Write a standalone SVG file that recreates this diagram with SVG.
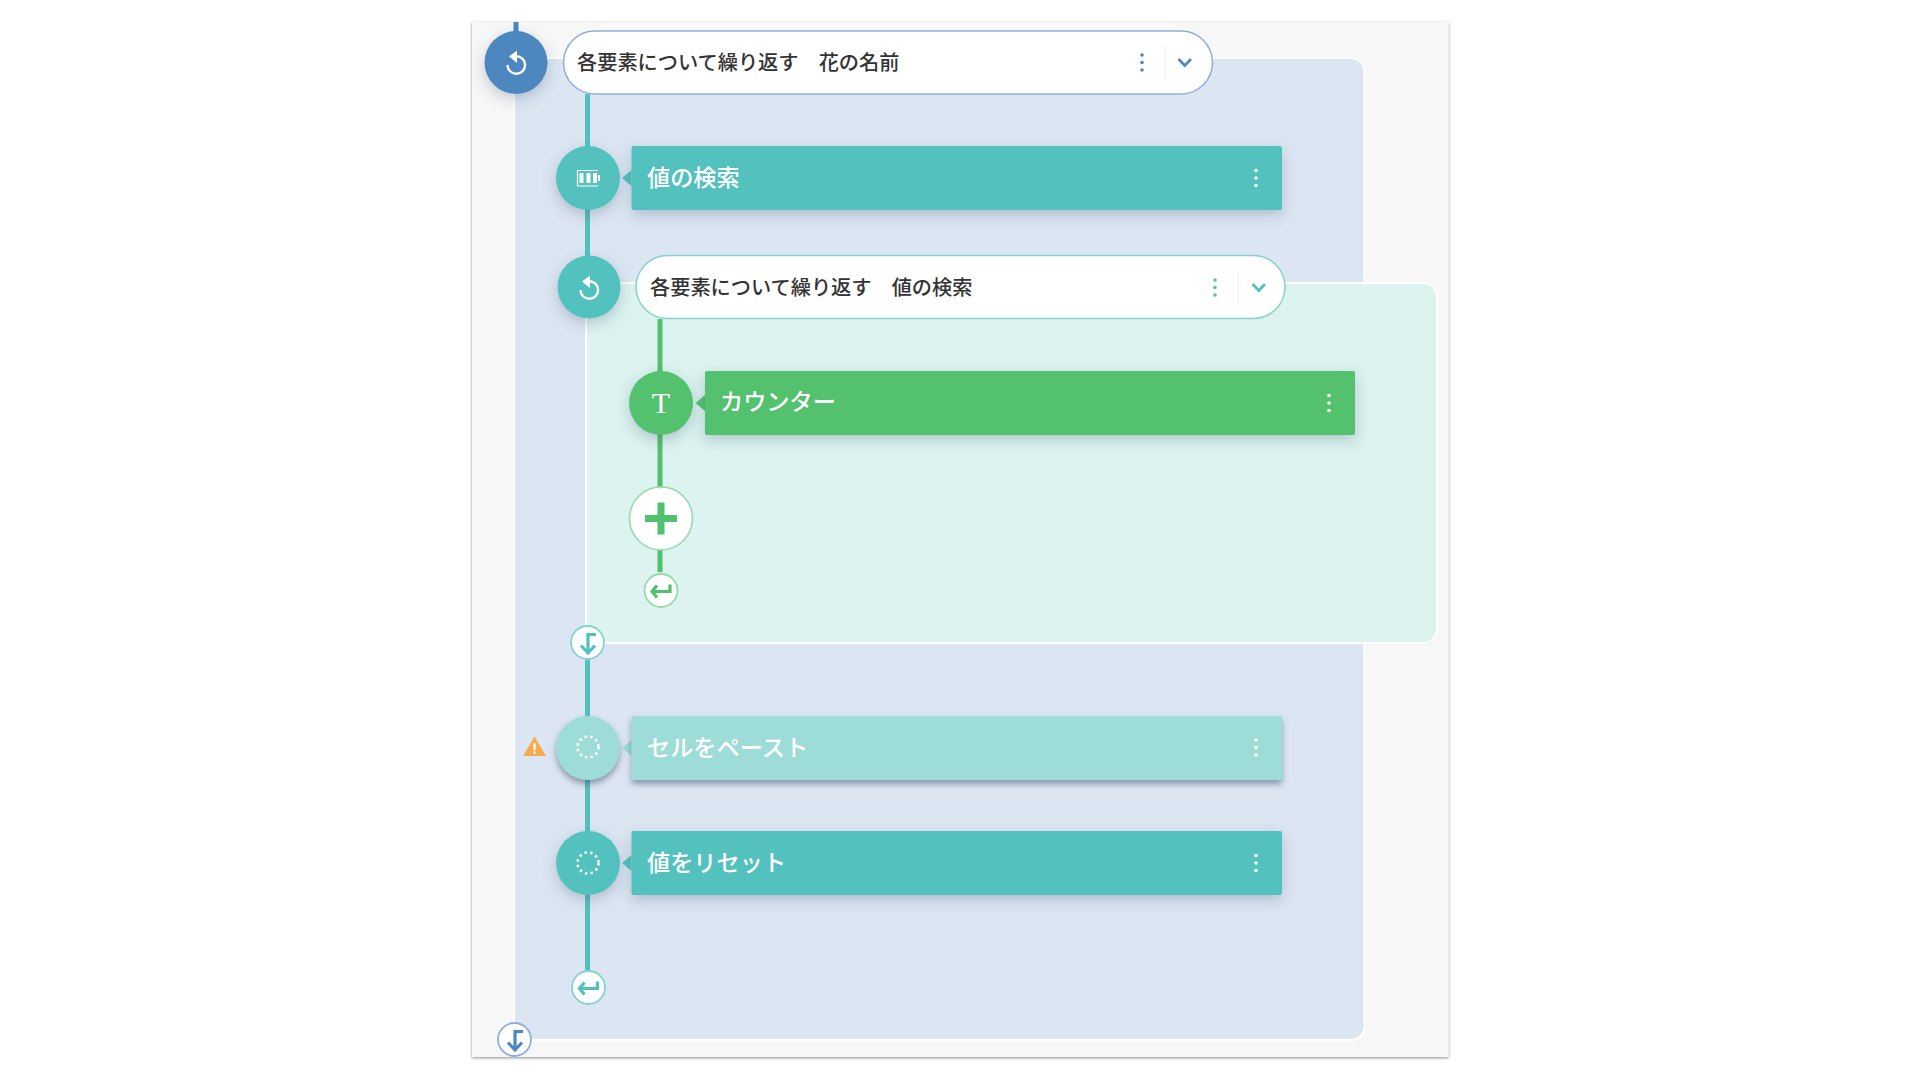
<svg xmlns="http://www.w3.org/2000/svg" width="1920" height="1080" viewBox="0 0 1920 1080">
<style>
.t{font-family:"Noto Sans CJK JP","Noto Sans",sans-serif;font-weight:500}
.pt{font-size:20.2px;fill:#333}
.bt{font-size:23.2px;fill:#fff}
.dot{fill:none;stroke:#fff;stroke-width:2.6;stroke-dasharray:2.4 3.3}
.tl{fill:#52c1bd}.gr{fill:#52c16d}.lt{fill:#9edcd7}.bl{fill:#4e87c0}
</style>
<defs>
<filter id="s" x="-30%" y="-50%" width="160%" height="220%"><feDropShadow dx="0" dy="5" stdDeviation="7" flood-color="#33465f" flood-opacity=".26"/></filter>
<filter id="s2" x="-30%" y="-50%" width="160%" height="220%"><feDropShadow dx="0" dy="4" stdDeviation="3" flood-color="#33465f" flood-opacity=".5"/></filter>
<filter id="p" x="-5%" y="-5%" width="110%" height="110%"><feDropShadow dx="0" dy="1" stdDeviation="1.5" flood-color="#000" flood-opacity=".45"/></filter>
<g id="kebab"><circle cx="0" cy="-7.5" r="1.8"/><circle cx="0" cy="0" r="1.8"/><circle cx="0" cy="7.5" r="1.8"/></g>
<g id="loop"><path d="M-8.500 2A8.800 8.800 0 1 0 0-6.800" fill="none" stroke="#fff" stroke-width="2.400"/><path d="M-7-6.500L1-12.500V0Z" fill="#fff"/></g>
<path id="ret" d="M9-6V1H-9M-4-5L-9 1-4 7" fill="none" stroke-width="3.200"/>
<path id="down" d="M9-8H1V10M-6 3L1 10.500 8 3" fill="none" stroke-width="3.200"/>
</defs>
<rect width="1920" height="1080" fill="#fff"/>
<rect id="panel" x="472" y="22" width="976.500" height="1035" fill="#f7f7f7" filter="url(#p)"/>
<g id="blocks">
<rect id="block-outer" x="514" y="58" width="850.500" height="982" rx="14" fill="#dce6f2" stroke="#fff" stroke-width="2"/>
<rect id="block-inner" x="586" y="283" width="851" height="360" rx="14" fill="#dcf3ef" stroke="#fff" stroke-width="2"/>
</g>
<g id="connectors" fill="none" stroke-width="5">
<path d="M516 22V34" stroke="#4e87c0"/>
<path d="M587.500 94V150M587.500 205V258M587.500 659V720M587.500 775V835M587.500 890V970" stroke="#52c1bd"/>
<path d="M660 319V375M660 430V490M660 545V572" stroke="#52c16d"/>
</g>
<g id="node-loop-1">
<circle cx="516" cy="62.500" r="31.500" class="bl" filter="url(#s)"/>
<use href="#loop" x="516" y="63"/>
<rect x="563.500" y="31" width="649" height="63" rx="31.500" fill="#fff" stroke="#8eb0d8" stroke-width="1.500"/>
<text x="577" y="70" class="t pt">各要素について繰り返す　花の名前</text>
<use href="#kebab" x="1142" y="62.500" fill="#4e87c0"/>
<path d="M1165 45V79" stroke="#e8eef6" stroke-width="1"/>
<path d="M1178.500 59L1184.800 65.500 1191 59" fill="none" stroke="#4e87c0" stroke-width="2.600"/>
</g>
<g id="node-search">
<circle cx="588" cy="178" r="32" class="tl" filter="url(#s)"/>
<path d="M631.500 170L622 178 631.500 186Z" class="tl"/>
<rect x="631.500" y="146" width="650.500" height="64" rx="2" class="tl" filter="url(#s)"/>
<path d="M598 170.500H577.500V186H598" fill="none" stroke="#fff" stroke-width="1.200"/>
<path d="M579.500 173h4v10h-4zM586.500 173h4v10h-4zM593 173h4v10h-4zM598 175h2v6h-2z" fill="#fff"/>
<text x="647" y="186" class="t bt">値の検索</text>
<use href="#kebab" x="1256" y="178" fill="#fff"/>
</g>
<g id="node-loop-2">
<circle cx="589" cy="287" r="31.500" class="tl" filter="url(#s)"/>
<use href="#loop" x="589" y="288"/>
<rect x="636" y="255.500" width="649" height="63" rx="31.500" fill="#fff" stroke="#86d2cd" stroke-width="1.500"/>
<text x="650" y="295" class="t pt">各要素について繰り返す　値の検索</text>
<use href="#kebab" x="1215" y="287.500" fill="#52c1bd"/>
<path d="M1238 269V304" stroke="#e2f4f2" stroke-width="1"/>
<path d="M1252.500 284L1258.800 290.500 1265 284" fill="none" stroke="#52c1bd" stroke-width="2.600"/>
</g>
<g id="node-counter">
<circle cx="661" cy="403" r="32" class="gr" filter="url(#s)"/>
<path d="M705 395L695.500 403 705 411Z" class="gr"/>
<rect x="705" y="371" width="650" height="64" rx="2" class="gr" filter="url(#s)"/>
<text x="661" y="413" text-anchor="middle" font-family="'Liberation Serif',serif" font-size="30" fill="#fff">T</text>
<text x="720" y="410" class="t bt">カウンター</text>
<use href="#kebab" x="1329" y="403" fill="#fff"/>
</g>
<g id="node-add">
<circle cx="661" cy="518.500" r="31.500" fill="#fff" stroke="#93dbaa" stroke-width="1.600"/>
<path d="M645 518.500H677M661 502.500V534.500" stroke="#52c16d" stroke-width="7" fill="none"/>
</g>
<g id="node-return-inner">
<circle cx="661" cy="590.500" r="16.500" fill="#fff" stroke="#93dbaa" stroke-width="1.800"/>
<use href="#ret" x="661" y="590.500" stroke="#52c16d"/>
</g>
<g id="node-down-inner">
<circle cx="587.500" cy="642.500" r="16.500" fill="#fff" stroke="#86d2cd" stroke-width="1.800"/>
<use href="#down" x="587" y="642.500" stroke="#52c1bd"/>
</g>
<g id="node-paste">
<path d="M534.500 736.500L546 756H523Z" fill="#f7a94f"/>
<path d="M534.500 743V750M534.500 751.500V754" stroke="#fff" stroke-width="2.200" fill="none"/>
<circle cx="588" cy="748" r="32" class="lt" filter="url(#s2)"/>
<path d="M631.500 740L622 748 631.500 756Z" class="lt"/>
<rect x="631.500" y="716" width="650.500" height="64" rx="2" class="lt" filter="url(#s2)"/>
<circle cx="588" cy="747" r="10.500" class="dot"/>
<text x="647" y="756" class="t bt">セルをペースト</text>
<use href="#kebab" x="1256" y="747.500" fill="#fff"/>
</g>
<g id="node-reset">
<circle cx="588" cy="863" r="32" class="tl" filter="url(#s)"/>
<path d="M631.500 855L622 863 631.500 871Z" class="tl"/>
<rect x="631.500" y="831" width="650.500" height="64" rx="2" class="tl" filter="url(#s)"/>
<circle cx="588" cy="863" r="10.500" class="dot"/>
<text x="647" y="871" class="t bt">値をリセット</text>
<use href="#kebab" x="1256" y="863" fill="#fff"/>
</g>
<g id="node-return-outer">
<circle cx="588.500" cy="987.500" r="16.500" fill="#fff" stroke="#86d2cd" stroke-width="1.800"/>
<use href="#ret" x="588.500" y="987.500" stroke="#52c1bd"/>
</g>
<g id="node-down-outer">
<circle cx="514.500" cy="1039.500" r="16.500" fill="#fff" stroke="#8eb0d8" stroke-width="1.800"/>
<use href="#down" x="514" y="1039.500" stroke="#4e87c0"/>
</g>
</svg>
